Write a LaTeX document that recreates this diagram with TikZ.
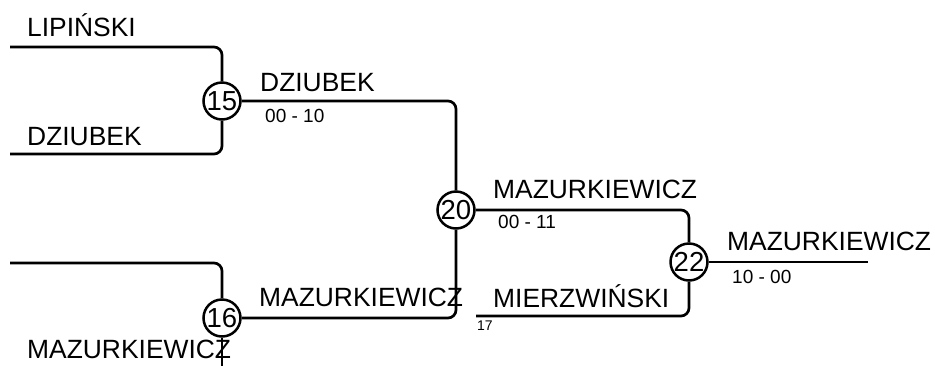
\documentclass[tikz,border=0pt]{standalone}
\usepackage{fontspec}
\setmainfont{Liberation Sans}
\usetikzlibrary{positioning}

\tikzset{
  bline/.style={black,line width=2.7pt,rounded corners=8pt},
  matchnode/.style={circle,draw=black,line width=2.5pt,fill=white,minimum size=37pt,inner sep=0pt,font=\fontsize{27.5}{30}\selectfont},
  player/.style={font=\fontsize{26.4}{30}\selectfont,text=black,anchor=base west,inner sep=0pt},
  score/.style={font=\fontsize{19}{22}\selectfont,text=black,anchor=base west,inner sep=0pt},
  seed/.style={font=\fontsize{14}{16}\selectfont,text=black,anchor=base west,inner sep=0pt}
}

\begin{document}
\begin{tikzpicture}[x=1pt,y=-1pt]
\useasboundingbox (0,0) rectangle (935,365);
\clip (0,0) rectangle (935,365);

% matches
\node[matchnode] (m15) at (222,101) {15};
\node[matchnode] (m16) at (222,318) {16};
\node[matchnode] (m20) at (456,210) {20};
\node[matchnode] (m22) at (689,262) {22};

% free ends
\coordinate (a15) at (10,47);
\coordinate (b15) at (10,154);
\coordinate (a16) at (10,263);
\coordinate (b16) at (222,375);
\coordinate (s17) at (476,316);
\coordinate (w22) at (868,262);

% bracket lines
\draw[bline] (a15) -| (m15);
\draw[bline] (b15) -| (m15);
\draw[bline] (a16) -| (m16);
\draw[bline] (m16) -- (b16);
\draw[bline] (m15) -| (m20);
\draw[bline] (m16) -| (m20);
\draw[bline] (m20) -| (m22);
\draw[bline] (s17) -| (m22);
\draw[bline] (m22) -- (w22);

% names
\node[player] (p1) at (27,36) {LIPIŃSKI};
\node[player] (p2) at (27,145) {DZIUBEK};
\node[player] (p3) at (27,358) {MAZURKIEWICZ};
\node[player] (p4) at (260,91) {DZIUBEK};
\node[player] (p5) at (259,306) {MAZURKIEWICZ};
\node[player] (p6) at (493,198) {MAZURKIEWICZ};
\node[player] (p7) at (493,307) {MIERZWIŃSKI};
\node[player] (p8) at (727,250) {MAZURKIEWICZ};

% scores
\node[score] (r15) at (265,122) {00 - 10};
\node[score] (r20) at (498,228) {00 - 11};
\node[score] (r22) at (732,283) {10 - 00};
\node[seed] (n17) at (477,330) {17};

\end{tikzpicture}
\end{document}
